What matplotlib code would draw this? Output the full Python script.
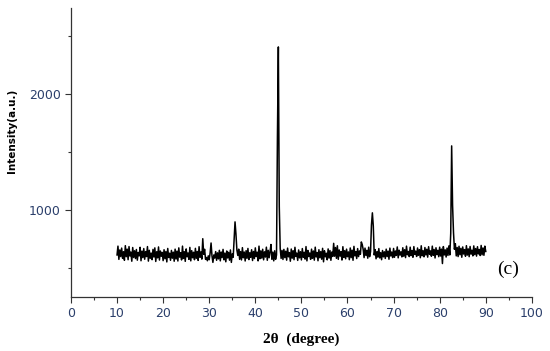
import matplotlib
matplotlib.use("Agg")
import matplotlib.pyplot as plt
import numpy as np
from matplotlib.ticker import MultipleLocator

# XRD scan: 10-90 deg, 0.2 deg step
scan_start = 10.0
scan_step = 0.2
intensity = [
    612, 688, 574, 655, 598, 671, 583, 640, 566, 692,   # 10
    597, 662, 571, 684, 603, 637, 558, 676, 590, 648,   # 12
    581, 659, 567, 633, 604, 678, 562, 645, 589, 667,   # 14
    575, 641, 598, 684, 559, 652, 583, 628, 571, 660,   # 16
    594, 673, 556, 639, 587, 681, 568, 646, 601, 634,   # 18
    563, 657, 579, 642, 552, 668, 590, 627, 566, 651,   # 20
    584, 636, 558, 662, 577, 645, 560, 673, 593, 631,   # 22
    569, 688, 582, 640, 557, 664, 596, 629, 574, 677,   # 24
    561, 649, 588, 635, 571, 669, 583, 642, 565, 683,   # 26
    592, 638, 576, 752, 618, 661, 574, 590, 562, 604,   # 28
    571, 629, 715, 603, 548, 612, 585, 641, 566, 630,   # 30
    578, 652, 561, 637, 589, 660, 570, 628, 553, 646,   # 32
    586, 634, 567, 655, 548, 621, 592, 748, 897, 792,   # 34
    655, 608, 662, 574, 641, 569, 675, 588, 637, 560,   # 36
    649, 583, 668, 572, 631, 592, 657, 564, 642, 581,   # 38
    673, 598, 636, 561, 688, 579, 647, 585, 661, 570,   # 40
    639, 594, 679, 566, 652, 588, 641, 702, 575, 636,   # 42
    561, 648, 574, 612, 1630, 2405, 1030, 668, 582, 651,  # 44
    573, 660, 589, 644, 567, 671, 596, 632, 558, 663,   # 46
    584, 649, 571, 678, 599, 628, 565, 655, 587, 640,   # 48
    569, 667, 592, 635, 576, 684, 561, 651, 598, 629,   # 50
    574, 662, 583, 646, 567, 679, 595, 633, 562, 657,   # 52
    588, 641, 575, 669, 553, 648, 596, 627, 570, 664,   # 54
    585, 650, 566, 637, 599, 712, 601, 676, 583, 691,   # 56
    574, 655, 602, 640, 568, 683, 591, 649, 579, 662,   # 58
    597, 638, 571, 672, 589, 653, 566, 686, 604, 641,   # 60
    581, 667, 598, 646, 618, 724, 702, 660, 589, 671,   # 62
    608, 652, 584, 679, 597, 640, 870, 975, 860, 612,   # 64
    658, 579, 641, 593, 667, 586, 632, 571, 650, 596,   # 66
    639, 582, 662, 598, 645, 575, 671, 603, 637, 589,   # 68
    668, 592, 646, 608, 681, 587, 653, 611, 639, 595,   # 70
    674, 601, 657, 589, 688, 614, 642, 598, 679, 606,   # 72
    650, 592, 684, 617, 645, 599, 672, 609, 658, 588,   # 74
    691, 605, 648, 596, 676, 612, 661, 593, 683, 618,   # 76
    647, 601, 688, 609, 659, 586, 674, 615, 652, 597,   # 78
    679, 603, 662, 538, 684, 612, 656, 594, 671, 608,   # 80
    690, 612, 798, 1552, 1040, 806, 661, 709, 604, 676,  # 82
    598, 687, 614, 669, 592, 681, 620, 658, 601, 692,   # 84
    611, 664, 597, 685, 619, 653, 604, 690, 615, 667,   # 86
    602, 683, 621, 659, 607, 694, 613, 672, 609, 688,   # 88
    642,                                                # 90
]
two_theta = scan_start + scan_step * np.arange(len(intensity))

panel_label = "(c)"
tick_color = "#2b3f6b"

fig = plt.figure(figsize=(5.5, 3.51), dpi=100)
ax = fig.add_axes([0.129, 0.154, 0.838, 0.823])
ax.plot(two_theta, intensity, color="black", lw=1.1)

ax.set_xlim(0, 100)
ax.set_ylim(250, 2740)
ax.xaxis.set_major_locator(MultipleLocator(10))
ax.xaxis.set_minor_locator(MultipleLocator(5))
ax.yaxis.set_major_locator(MultipleLocator(1000))
ax.yaxis.set_minor_locator(MultipleLocator(500))

for side in ("top", "right"):
    ax.spines[side].set_visible(False)
for side in ("left", "bottom"):
    ax.spines[side].set_color("#333333")
    ax.spines[side].set_linewidth(0.9)

ax.tick_params(which="major", direction="out", length=4, width=0.8,
               colors="#333333", labelcolor=tick_color, labelsize=9)
ax.tick_params(which="minor", direction="out", length=2.5, width=0.8,
               colors="#333333")

ax.set_xlabel("2θ  (degree)", family="Liberation Serif", fontweight="bold",
              fontsize=11)
ax.xaxis.set_label_coords(0.5, -0.122)
ax.set_ylabel("Intensity(a.u.)", fontweight="bold", fontsize=7.5)
ax.yaxis.set_label_coords(-0.117, 0.574)

ax.text(94.8, 490, panel_label, family="Liberation Serif",
        fontsize=14, ha="center", va="center")

fig.savefig("out.png", dpi=100)
